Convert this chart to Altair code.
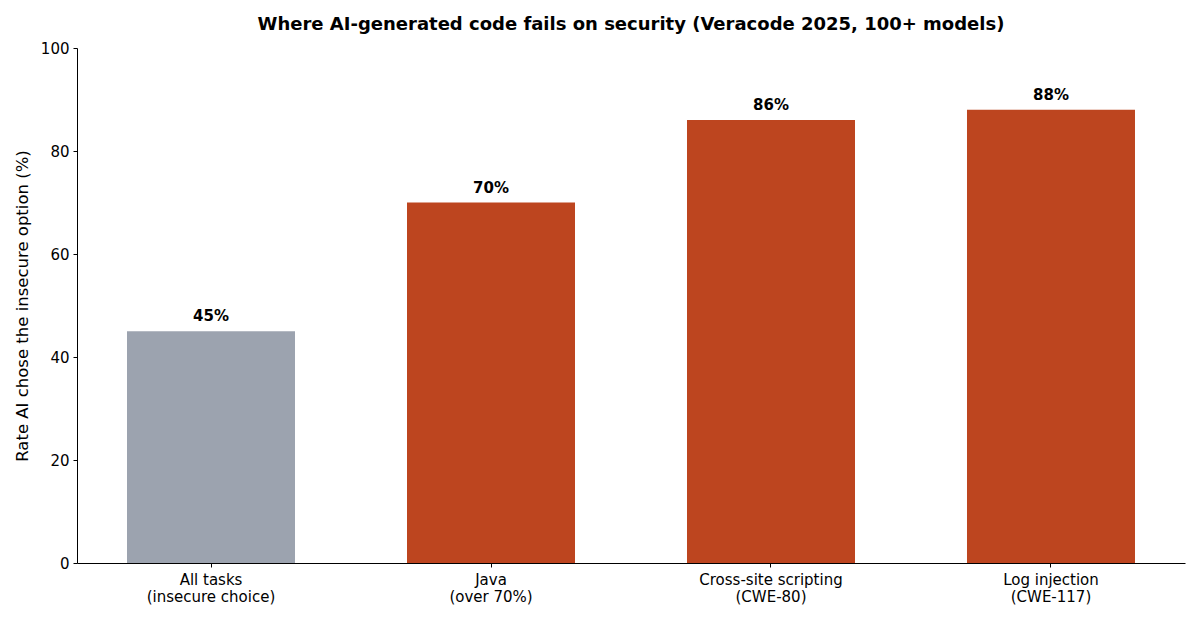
import altair as alt
import pandas as pd

categories = ["All tasks|(insecure choice)", "Java|(over 70%)",
              "Cross-site scripting|(CWE-80)", "Log injection|(CWE-117)"]
values = [45, 70, 86, 88]
labels = ["45%", "70%", "86%", "88%"]
groups = ["baseline", "hot", "hot", "hot"]

df = pd.DataFrame({"cat": categories, "val": values, "lab": labels, "grp": groups})

FONT = "DejaVu Sans"

x = alt.X("cat:N", sort=categories,
          scale=alt.Scale(paddingInner=0.4, paddingOuter=0.1786),
          axis=alt.Axis(title=None, labelAngle=0, labelExpr="split(datum.label, '|')",
                        labelFontSize=15, labelFont=FONT, labelColor="black",
                        labelPadding=5, labelLineHeight=17, tickSize=4,
                        domainColor="black", tickColor="black", labelBaseline="top"))
y = alt.Y("val:Q", scale=alt.Scale(domain=[0, 100], nice=False),
          axis=alt.Axis(title="Rate AI chose the insecure option (%)", values=[0, 20, 40, 60, 80, 100],
                        grid=False, labelFontSize=15, labelFont=FONT, labelColor="black",
                        titleFontSize=16.5, titleFont=FONT, titleFontWeight="normal", titleColor="black",
                        titlePadding=10, tickSize=4, labelPadding=4,
                        domainColor="black", tickColor="black"))

bars = alt.Chart(df).mark_bar().encode(
    x=x, y=y,
    color=alt.Color("grp:N", scale=alt.Scale(domain=["baseline", "hot"], range=["#9CA3AF", "#BD451F"]),
                    legend=None),
)
text = alt.Chart(df).mark_text(dy=-15, fontSize=15, fontWeight="bold", font=FONT, color="black").encode(
    x=alt.X("cat:N", sort=categories), y=alt.Y("val:Q"), text="lab:N"
)

chart = (bars + text).properties(
    width=1108, height=515,
    background="white",
    title=alt.TitleParams("Where AI-generated code fails on security (Veracode 2025, 100+ models)",
                          fontSize=18, font=FONT, fontWeight="bold", color="black", offset=7),
    autosize=alt.AutoSizeParams(type="none"),
    padding={"left": 69, "top": 40, "right": 7, "bottom": 49},
).configure_view(strokeWidth=0, stroke="transparent")

chart.save("out.html", embed_options={"renderer": "svg", "actions": False})
